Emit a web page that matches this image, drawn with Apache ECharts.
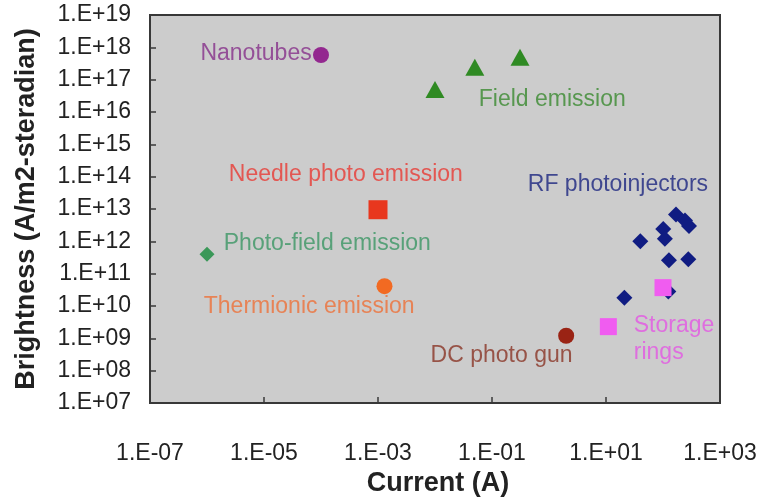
<!DOCTYPE html>
<html><head><meta charset="utf-8">
<script src="https://cdn.jsdelivr.net/npm/echarts@6/dist/echarts.min.js"></script>
<style>html,body{margin:0;padding:0;background:#fff}#c{width:761px;height:499px}</style>
</head><body><div id="c"></div>
<script>
// ---- data ----
const xTickLabels = [1e-7, 1e-5, 1e-3, 1e-1, 1e1, 1e3];
const xTickMarks = [1e-5, 1e-3, 1e-1, 1e1];
const yTickLabels = [1e7, 1e8, 1e9, 1e10, 1e11, 1e12, 1e13, 1e14, 1e15, 1e16, 1e17, 1e18, 1e19];

const nanotubes = [[1e-4, 5.8e17]];
const fieldEmission = [[1e-2, 5e16], [0.05, 2.4e17], [0.31, 4.9e17]];
const needlePhoto = [[1e-3, 9.5e12]];
const photoField = [[1e-6, 4e11]];
const thermionic = [[1.3e-3, 4.1e10]];
const dcPhotoGun = [[2, 1.2e9]];
const rfPhotoinjectors = [[169, 6.7e12], [243, 4.4e12], [286, 3e12], [101, 2.4e12], [108, 1.2e12],
                          [40, 1e12], [127, 2.6e11], [278, 2.8e11], [124, 2.8e10], [21, 1.8e10]];
const storageRings = [[11, 2.3e9], [100, 3.7e10]];

const annotationText = ['Nanotubes', 'Field emission', 'Needle photo emission', 'Photo-field emission',
                        'Thermionic emission', 'DC photo gun', 'Storage\nrings', 'RF photoinjectors'];
const annotationX = [7.0e-5, 0.0575, 2.37e-6, 1.93e-6, 8.6e-7, 8.2e-3, 30.1, 0.416];
const annotationY = [6.2e17, 2.35e16, 1.12e14, 8.7e11, 9.5e9, 3.0e8, 9.3e8, 5.5e13];
const annotationSide = ['left', 'right', 'right', 'right', 'right', 'right', 'right', 'right'];
const annotationColor = ['#86308a', '#3a8a30', '#e83a33', '#3b9664', '#ee7038', '#8a3526', '#e356e3', '#1c2680'];

// ---- chart ----
const FONT = 'Liberation Sans, Arial, sans-serif';
function fmtExp(v) {
  const e = Math.round(Math.log10(v));
  const s = e < 0 ? '-' : '+';
  const a = Math.abs(e);
  return '1.E' + s + (a < 10 ? '0' + a : '' + a);
}
function sc(name, data, symbol, size, color) {
  return { name, type: 'scatter', data, symbol, symbolSize: size,
           itemStyle: { color, opacity: 1 }, z: 3, silent: true };
}
const annData = annotationText.map((t, i) => ({
  value: [annotationX[i], annotationY[i]],
  name: t,
  label: { show: true, position: annotationSide[i], distance: 0, color: annotationColor[i],
           formatter: t, fontSize: 23, fontFamily: FONT, lineHeight: 27 }
}));

const chart = echarts.init(document.getElementById('c'));
chart.setOption({
  animation: false,
  backgroundColor: '#ffffff',
  grid: { left: 150, top: 15, right: 41, bottom: 96, show: true, containLabel: false, outerBoundsMode: 'none',
          backgroundColor: '#cccccc', borderColor: '#383838', borderWidth: 2 },
  xAxis: {
    type: 'log', logBase: 10, min: 1e-7, max: 1e3,
    name: 'Current (A)', nameLocation: 'middle', nameGap: 66,
    nameTextStyle: { fontSize: 27, fontWeight: 'bold', color: '#222', fontFamily: FONT, padding: [0, 0, 0, 6] },
    axisLine: { show: true, lineStyle: { color: '#383838', width: 2 } },
    axisTick: { show: true, inside: true, length: 6, customValues: xTickMarks, lineStyle: { color: '#383838', width: 1.5 } },
    axisLabel: { customValues: xTickLabels, formatter: fmtExp, fontSize: 23, color: '#222', fontFamily: FONT, margin: 39 },
    splitLine: { show: false }
  },
  yAxis: {
    type: 'log', logBase: 10, min: 1e7, max: 1e19,
    name: 'Brightness (A/m2-steradian)', nameLocation: 'middle', nameGap: 110,
    nameTextStyle: { fontSize: 27, fontWeight: 'bold', color: '#222', fontFamily: FONT },
    axisLine: { show: true, lineStyle: { color: '#383838', width: 2 } },
    axisTick: { show: true, inside: true, length: 6, customValues: yTickLabels, lineStyle: { color: '#383838', width: 1.5 } },
    axisLabel: { customValues: yTickLabels, formatter: fmtExp, fontSize: 23, color: '#222', fontFamily: FONT, margin: 19, padding: [4, 0, 0, 0] },
    splitLine: { show: false }
  },
  series: [
    sc('Nanotubes', nanotubes, 'circle', 16, '#93288f'),
    sc('Field emission', fieldEmission, 'triangle', [19, 17], '#2f8a23'),
    sc('Needle photo emission', needlePhoto, 'rect', 19, '#e8371e'),
    sc('Photo-field emission', photoField, 'diamond', [15, 15], '#3a9858'),
    sc('Thermionic emission', thermionic, 'circle', 16, '#f26a22'),
    sc('DC photo gun', dcPhotoGun, 'circle', 16, '#9a2314'),
    sc('RF photoinjectors', rfPhotoinjectors, 'diamond', [16, 16], '#101c82'),
    sc('Storage rings', storageRings, 'rect', 17, '#f05cf0'),
    { name: 'annotations', type: 'scatter', data: annData, symbol: 'circle', symbolSize: 1,
      itemStyle: { color: 'rgba(0,0,0,0)' }, z: 4, silent: true }
  ]
});
</script>
</body></html>
